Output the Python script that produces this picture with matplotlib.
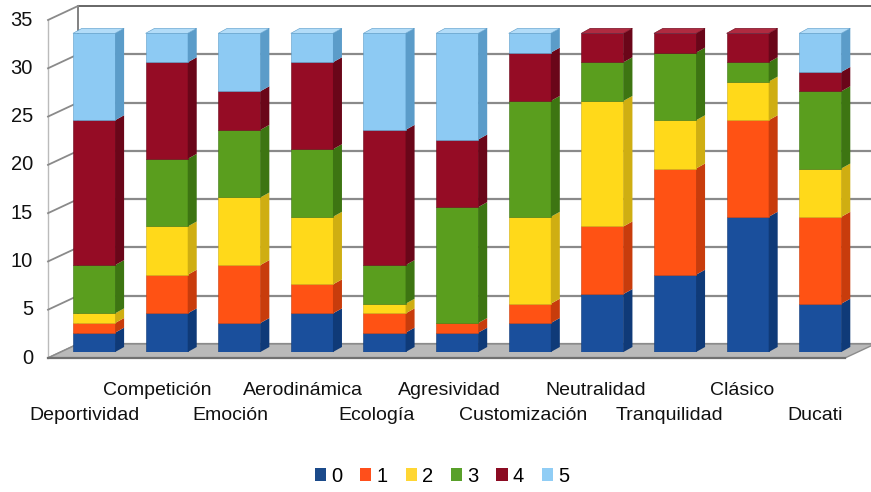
import matplotlib
matplotlib.use("Agg")
import matplotlib.pyplot as plt
from matplotlib.patches import Patch, Polygon

plt.rcParams['font.family'] = ['Liberation Sans', 'DejaVu Sans']

# ---------------- data ----------------
categories = ["Deportividad", "Competición", "Emoción", "Aerodinámica", "Ecología",
              "Agresividad", "Customización", "Neutralidad", "Tranquilidad", "Clásico", "Ducati"]
series_names = ["0", "1", "2", "3", "4", "5"]
s0 = [2, 4, 3, 4, 2, 2, 3, 6, 8, 14, 5]
s1 = [1, 4, 6, 3, 2, 1, 2, 7, 11, 10, 9]
s2 = [1, 5, 7, 7, 1, 0, 9, 13, 5, 4, 5]
s3 = [5, 7, 7, 7, 4, 12, 12, 4, 7, 2, 8]
s4 = [15, 10, 4, 9, 14, 7, 5, 3, 2, 3, 2]
s5 = [9, 3, 6, 3, 10, 11, 2, 0, 0, 0, 4]
series = [s0, s1, s2, s3, s4, s5]
yticks = [0, 5, 10, 15, 20, 25, 30, 35]

# ---------------- styles ----------------
front_c = ['#1a4f9c', '#ff5214', '#ffd91a', '#5a9e1e', '#950c25', '#8dcaf3']
side_c = ['#0f3a78', '#c83c0c', '#cfae12', '#3d7512', '#6a0619', '#5b9cc9']
cap_c = ['#3b6fb8', '#ff7a45', '#ffe566', '#7bbd3e', '#b02a40', '#b2dcf8']
legend_c = ['#1b4a8a', '#ff4f1b', '#ffd633', '#59a02a', '#8b0b22', '#90cdf5']

W, H = 871, 492
fig = plt.figure(figsize=(W / 100, H / 100), dpi=100)
fig.patch.set_facecolor('white')

ax_l, ax_r, ax_top, ax_bot = 61, 858, 14, 352
ax = fig.add_axes([ax_l / W, 1 - ax_bot / H, (ax_r - ax_l) / W, (ax_bot - ax_top) / H])
xl, xr = -0.455, 10.52
ymax = 35
ax.set_xlim(xl, xr)
ax.set_ylim(0, ymax)
ax.axis('off')

sx = (ax_r - ax_l) / (xr - xl)      # px per x unit
sy = (ax_bot - ax_top) / ymax       # px per y unit
dxp = lambda p: p / sx
dyp = lambda p: p / sy

# plane offsets (px): front plane and back plane relative to bar plane
fx, fy = dxp(-13), dyp(-6)
bx, by = dxp(17), dyp(8)

grid_col = '#8a8a8a'
# back wall gridlines
for v in yticks:
    lw = 1.6 if v < ymax else 1.4
    col = grid_col if v < ymax else '#666666'
    ax.plot([xl + bx, xr + bx + 1], [v + by, v + by], color=col, lw=lw,
            clip_on=False, zorder=1, solid_capstyle='butt')
# back wall left edge
ax.plot([xl + bx, xl + bx], [by, ymax + by], color='#777777', lw=1.3, clip_on=False, zorder=1)
# left wall: front edge and slanted tick lines
ax.plot([xl + fx, xl + fx], [fy, ymax + fy], color='#bbbbbb', lw=1.0, clip_on=False, zorder=1)
for v in yticks:
    ax.plot([xl + fx, xl + bx], [v + fy, v + by], color='#8a8a8a', lw=1.3,
            clip_on=False, zorder=1)

# floor
floor = Polygon([(xl + fx, fy), (xr + fx, fy), (xr + bx, by), (xl + bx, by)],
                closed=True, facecolor='#b9b9b9', edgecolor='#8c8c8c', lw=1.0,
                clip_on=False, zorder=1.5)
ax.add_patch(floor)
ax.plot([xl + fx, xr + fx], [fy, fy], color='#707070', lw=1.6, clip_on=False, zorder=1.6)

# bars
bw = 0.58
sdx, sdy = dxp(9), dyp(5)
x = list(range(len(categories)))
bottoms = [0] * len(categories)
tops_info = [None] * len(categories)
for k, s in enumerate(series):
    ax.bar(x, s, width=bw, bottom=bottoms, color=front_c[k], edgecolor=side_c[k],
           linewidth=0.4, zorder=3 + k * 0.01)
    for i, val in enumerate(s):
        if val <= 0:
            continue
        b = bottoms[i]
        xr_i = x[i] + bw / 2
        side = Polygon([(xr_i, b), (xr_i + sdx, b + sdy), (xr_i + sdx, b + val + sdy), (xr_i, b + val)],
                       closed=True, facecolor=side_c[k], edgecolor='none', zorder=3 + k * 0.01)
        ax.add_patch(side)
        tops_info[i] = (b + val, k)
    bottoms = [bottoms[i] + s[i] for i in range(len(s))]

for i, (top, k) in enumerate(tops_info):
    xl_i, xr_i = x[i] - bw / 2, x[i] + bw / 2
    cap = Polygon([(xl_i, top), (xl_i + sdx, top + sdy), (xr_i + sdx, top + sdy), (xr_i, top)],
                  closed=True, facecolor=cap_c[k], edgecolor=side_c[k], lw=0.4, zorder=4)
    ax.add_patch(cap)

# y tick labels (front plane)
for v in yticks:
    ax.text(xl + dxp(33 - ax_l), v + fy, str(v), ha='right', va='center',
            fontsize=14.5, color='#111111', clip_on=False)

# category labels, staggered
for i, name in enumerate(categories):
    off = dxp(-10 + 0.5 * i)
    base_px = 395 if i % 2 == 1 else 420
    ax.text(x[i] + off, -dyp(base_px - ax_bot), name, ha='center', va='baseline',
            fontsize=14, color='#111111', clip_on=False)

# legend
handles = [Patch(facecolor=legend_c[k], edgecolor='none') for k in range(len(series_names))]
fig.legend(handles, series_names, loc='center', bbox_to_anchor=(442 / W, 1 - 476 / H),
           ncol=6, frameon=False, handlelength=0.55, handleheight=0.6,
           handletextpad=0.25, columnspacing=0.9, fontsize=14.5)

fig.savefig('out.png', dpi=100, facecolor='white')
